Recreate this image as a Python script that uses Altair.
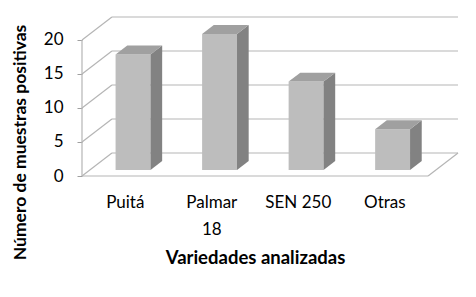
import altair as alt
import pandas as pd

categories = ["Puitá", "Palmar\n18", "SEN 250", "Otras"]
values = [17, 20, 13, 6]
y_ticks = [0, 5, 10, 15, 20]

# 3D geometry (style constants)
FLOOR_W = 347.0      # front floor width (x units)
DEPTH_X = 30.0       # depth offset in x units
DEPTH_Y = 3.38       # depth offset in y units
BAR_W = 35.0
F0, F1 = 0.26, 0.65  # bar depth (front/back fraction)
XMAX = FLOOR_W + DEPTH_X
YMAX = 23.38

band = FLOOR_W / len(categories)
front_rows, side_rows, top_rows, lab_rows = [], [], [], []
for i, (c, v) in enumerate(zip(categories, values)):
    cx = band * (i + 0.5)
    xl, xr = cx - BAR_W / 2, cx + BAR_W / 2
    front_rows.append(dict(k=c, x=xl + F0 * DEPTH_X, x2=xr + F0 * DEPTH_X,
                           y=F0 * DEPTH_Y, y2=v + F0 * DEPTH_Y))
    for f in (F0, F1):
        side_rows.append(dict(k=c, x=xr + f * DEPTH_X, y=f * DEPTH_Y, y2=v + f * DEPTH_Y))
        top_rows.append(dict(k=c, y=v + f * DEPTH_Y, x=xl + f * DEPTH_X, x2=xr + f * DEPTH_X))
    lab_rows.append(dict(k=c, x=cx, y=0))

lines = []
for t in y_ticks:
    lines.append(dict(x=0, y=t, x2=DEPTH_X, y2=t + DEPTH_Y))
    lines.append(dict(x=DEPTH_X, y=t + DEPTH_Y, x2=XMAX, y2=t + DEPTH_Y))
lines.append(dict(x=0, y=0, x2=0, y2=max(y_ticks)))
lines.append(dict(x=0, y=0, x2=FLOOR_W, y2=0))
lines.append(dict(x=FLOOR_W, y=0, x2=XMAX, y2=DEPTH_Y))

xs = alt.Scale(domain=[0, XMAX], nice=False, zero=False)
ys = alt.Scale(domain=[0, YMAX], nice=False, zero=False)
FONT = "Lato"

xaxis = alt.Axis(labels=False, ticks=False, domain=False, grid=False,
                 title="Variedades analizadas", titleFontSize=18.5,
                 titleFont=FONT, titleFontWeight="bold",
                 titlePadding=72, titleX=173, titleColor="black")
yaxis = alt.Axis(values=y_ticks, domain=False, grid=False, tickSize=5,
                 tickColor="#a0a0a0", labelFontSize=17, labelFont=FONT,
                 labelColor="black", labelPadding=14,
                 title="Número de muestras positivas", titleFontSize=17.5,
                 titleFont=FONT, titleFontWeight="bold", titleColor="black",
                 titleX=-62, titleY=125, titleBaseline="middle")

X = lambda: alt.X("x:Q", scale=xs, axis=xaxis)
Y = lambda: alt.Y("y:Q", scale=ys, axis=yaxis)

grid = alt.Chart(pd.DataFrame(lines)).mark_rule(color="#b5b5b5", strokeWidth=1.2).encode(
    x=X(), x2="x2:Q", y=Y(), y2="y2:Q",
)
front = alt.Chart(pd.DataFrame(front_rows)).mark_rect(color="#bdbdbd").encode(
    x=X(), x2="x2:Q", y=Y(), y2="y2:Q",
)
side = alt.Chart(pd.DataFrame(side_rows)).mark_area(color="#828282").encode(
    x=X(), y=Y(), y2="y2:Q", detail="k:N",
)
top = alt.Chart(pd.DataFrame(top_rows)).mark_area(color="#a0a0a0", orient="horizontal").encode(
    y=Y(), x=X(), x2="x2:Q", detail="k:N",
)
labels = alt.Chart(pd.DataFrame(lab_rows)).mark_text(
    font=FONT, fontSize=17, baseline="top", dy=19, lineBreak="\n", lineHeight=27, color="black"
).encode(
    x=X(), y=Y(), text="k:N",
)

chart = alt.layer(grid, front, side, top, labels).properties(
    width=376, height=159,
    autosize=alt.AutoSizeParams(type="none"),
    padding={"left": 74, "top": 9, "right": 10, "bottom": 113},
    background="white",
).configure_view(stroke=None)

chart.save("out.html", embed_options={"renderer": "svg", "actions": False})
